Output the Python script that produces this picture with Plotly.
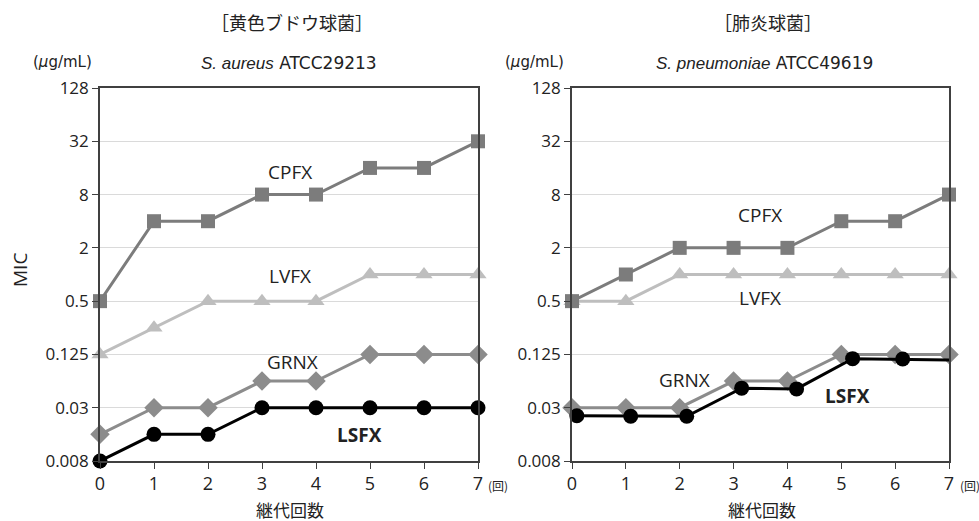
import math
import plotly.graph_objects as go

# Passage number (x) and MIC values (µg/mL)
passages = [0, 1, 2, 3, 4, 5, 6, 7]

# S. aureus ATCC29213
sa_cpfx = [0.5, 4, 4, 8, 8, 16, 16, 32]
sa_lvfx = [0.125, 0.25, 0.5, 0.5, 0.5, 1, 1, 1]
sa_grnx = [0.015625, 0.03125, 0.03125, 0.0625, 0.0625, 0.125, 0.125, 0.125]
sa_lsfx = [0.0078125, 0.015625, 0.015625, 0.03125, 0.03125, 0.03125, 0.03125, 0.03125]

# S. pneumoniae ATCC49619
sp_cpfx = [0.5, 1, 2, 2, 2, 4, 4, 8]
sp_lvfx = [0.5, 0.5, 1, 1, 1, 1, 1, 1]
sp_grnx = [0.03125, 0.03125, 0.03125, 0.0625, 0.0625, 0.125, 0.125, 0.125]
sp_lsfx_x = [0.09, 1.09, 2.13, 3.15, 4.17, 5.21, 6.14, 7.1]
sp_lsfx = [0.0254, 0.0250, 0.0250, 0.052, 0.051, 0.112, 0.111, 0.108]

ytick_vals = [128, 32, 8, 2, 0.5, 0.125, 0.03125, 0.0078125]
ytick_text = ["128", "32", "8", "2", "0.5", "0.125", "0.03", "0.008"]

panel_names = ["黄色ブドウ球菌", "肺炎球菌"]
species = ["S. aureus", "S. pneumoniae"]
strains = ["ATCC29213", "ATCC49619"]

W, H = 979, 521
LATIN = "Open Sans, Noto Sans CJK JP, sans-serif"
WIDE = "DejaVu Sans, Open Sans, sans-serif"
ITALIC = "Liberation Sans, Arial, sans-serif"
CJK = "Noto Sans CJK JP, sans-serif"
BRACKET = "Noto Sans CJK TC"  # centred full-width brackets
INK = "#222222"

styles = {
    "CPFX": dict(color="#7c7c7c", symbol="square", size=14),
    "LVFX": dict(color="#bebebe", symbol="triangle-up", size=15),
    "GRNX": dict(color="#8c8c8c", symbol="diamond", size=15),
    "LSFX": dict(color="#000000", symbol="circle", size=15),
}

# Plot-area boxes in pixels: (left, right, top, bottom)
boxes = [(100, 478, 88, 461), (572, 949, 88, 461)]

fig = go.Figure()


def add_series(x, y, name, xa, ya):
    s = styles[name]
    fig.add_trace(go.Scatter(
        x=x, y=y, mode="lines+markers", name=name,
        xaxis=xa, yaxis=ya, cliponaxis=False, showlegend=False,
        line=dict(color=s["color"], width=3),
        marker=dict(color=s["color"], symbol=s["symbol"], size=s["size"],
                    line=dict(width=0)),
    ))


panels = [
    (passages, sa_cpfx, sa_lvfx, sa_grnx, passages, sa_lsfx),
    (passages, sp_cpfx, sp_lvfx, sp_grnx, sp_lsfx_x, sp_lsfx),
]

for i, (px, cp, lv, gr, lx, ls) in enumerate(panels):
    xa = "x" if i == 0 else "x2"
    ya = "y" if i == 0 else "y2"
    add_series(px, lv, "LVFX", xa, ya)
    add_series(px, cp, "CPFX", xa, ya)
    add_series(px, gr, "GRNX", xa, ya)
    add_series(lx, ls, "LSFX", xa, ya)

layout_axes = {}
for i, (l, r, t, b) in enumerate(boxes):
    sfx = "" if i == 0 else "2"
    layout_axes["xaxis" + sfx] = dict(
        domain=[l / W, r / W], range=[0, 7], anchor="y" + sfx,
        tickvals=passages, ticks="outside", ticklen=6, tickwidth=1.2,
        tickcolor="#404040", showgrid=False, zeroline=False, automargin=False,
        showline=True, linecolor="#404040", linewidth=1.6, mirror=True,
        tickfont=dict(size=18, color=INK, family=LATIN),
    )
    layout_axes["yaxis" + sfx] = dict(
        domain=[1 - b / H, 1 - t / H], type="log",
        range=[math.log10(2 ** -7), math.log10(2 ** 7)], anchor="x" + sfx,
        tickvals=ytick_vals, ticktext=ytick_text, ticks="outside",
        ticklen=6, tickwidth=1.2, tickcolor="#404040", automargin=False,
        showgrid=True, gridcolor="#dadada", gridwidth=1.2, zeroline=False,
        showline=True, linecolor="#404040", linewidth=1.6, mirror=True,
        tickfont=dict(size=17, color=INK, family=LATIN),
    )

fig.update_layout(
    width=W, height=H,
    margin=dict(l=0, r=0, t=0, b=0, pad=0, autoexpand=False),
    paper_bgcolor="white", plot_bgcolor="white",
    font=dict(family=LATIN, color=INK),
    **layout_axes,
)

ann = []


def txt(text, x, y, size=19, family=LATIN, xanchor="center", **kw):
    ann.append(dict(text=text, x=x / W, y=1 - y / H, xref="paper", yref="paper",
                    showarrow=False, xanchor=xanchor, yanchor="middle",
                    font=dict(size=size, color=INK, family=family), **kw))


def heading(name):
    br = f'<span style="font-family:{BRACKET}">'
    return f"{br}［</span>{name}{br}］</span>"


def subtitle(sp, strain):
    return (f'<span style="font-family:{ITALIC};font-style:italic">{sp}</span>'
            f' {strain}')


# Panel headings and unit labels
txt(heading(panel_names[0]), 292, 22, size=18, family=CJK)
txt(subtitle(species[0], strains[0]), 289, 63, size=17, family=WIDE)
txt(heading(panel_names[1]), 768, 22, size=18, family=CJK)
txt(subtitle(species[1], strains[1]), 764, 63, size=17, family=WIDE)
txt("(<i>μ</i>g/mL)", 62, 62, size=15, family=WIDE)
txt("(<i>μ</i>g/mL)", 534, 62, size=15, family=WIDE)
txt("MIC", 20, 270, size=19, textangle=-90)
txt("継代回数", 290, 509, size=17, family=CJK)
txt("継代回数", 762, 509, size=17, family=CJK)
txt("(回)", 486, 485, size=12, family=CJK, xanchor="left")
txt("(回)", 958, 485, size=12, family=CJK, xanchor="left")

# Drug labels
txt("CPFX", 290, 172)
txt("LVFX", 290, 276)
txt("GRNX", 292, 362)
txt("<b>LSFX</b>", 359, 435)
txt("CPFX", 760, 215)
txt("LVFX", 760, 298)
txt("GRNX", 684, 380)
txt("<b>LSFX</b>", 847, 396)

fig.update_layout(annotations=ann)
fig.write_html("out.html")
